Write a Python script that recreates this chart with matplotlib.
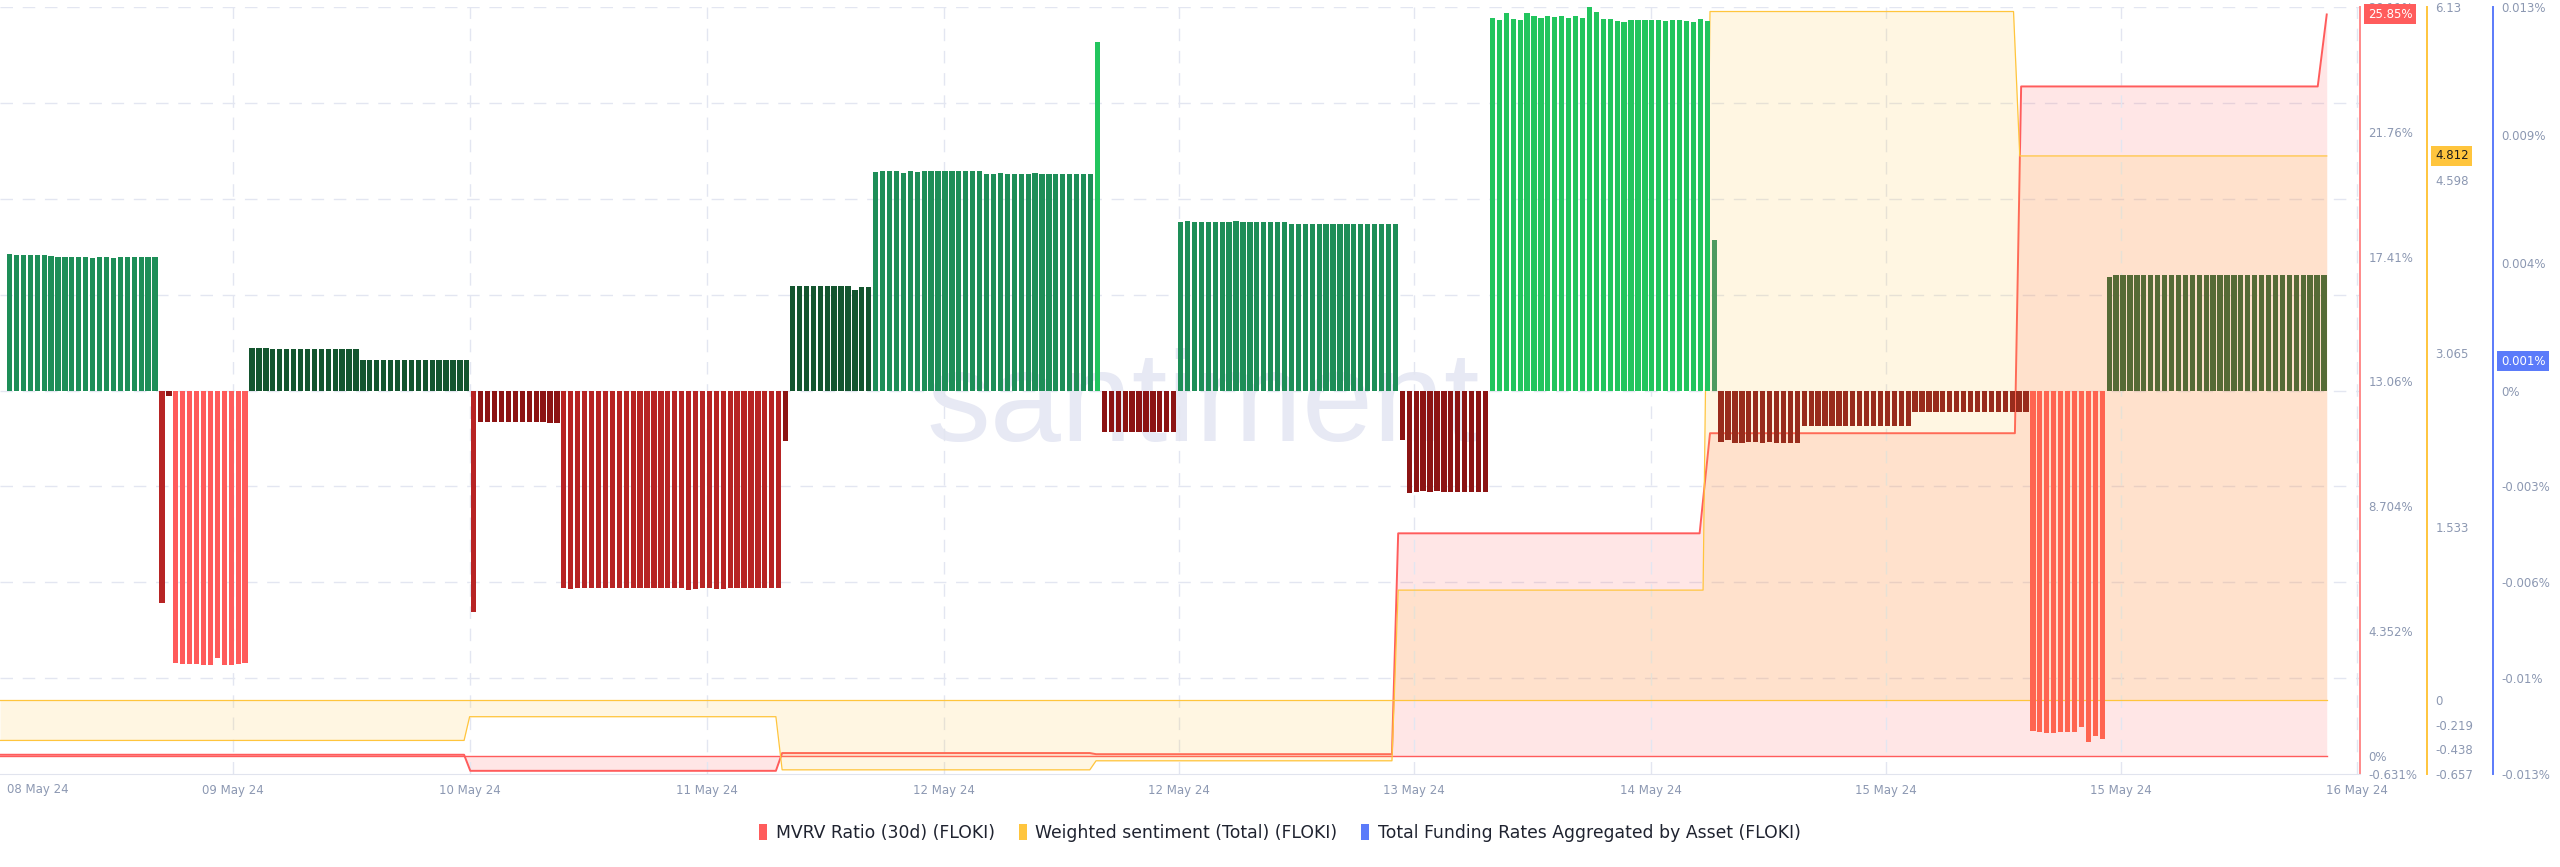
import matplotlib
matplotlib.use("Agg")
import matplotlib.pyplot as plt
import matplotlib.transforms as mtransforms
from matplotlib.patches import Patch

# Total funding rates (%) per period from left to right
funding_rates = [
    # 08 May
    0.00462, 0.00459, 0.00459, 0.00458, 0.00459, 0.00458, 0.00455, 0.00454, 0.00454, 0.00451, 0.00451,
    0.00451, 0.00450, 0.00451, 0.00451, 0.00450, 0.00451, 0.00451, 0.00451, 0.00451, 0.00452, 0.00452,
    -0.00721,
    -0.00017,
    -0.00925, -0.00927, -0.00927, -0.00928, -0.00929, -0.00930, -0.00906, -0.00932, -0.00930, -0.00927, -0.00925,
    # 09 May
    0.00143, 0.00143, 0.00143, 0.00142, 0.00142, 0.00142, 0.00142, 0.00142, 0.00142, 0.00142, 0.00142,
    0.00142, 0.00142, 0.00142, 0.00142, 0.00142, 0.00105, 0.00105, 0.00104, 0.00105, 0.00105, 0.00105,
    0.00105, 0.00105, 0.00105, 0.00105, 0.00105, 0.00105, 0.00105, 0.00105, 0.00105, 0.00105,
    -0.00752,
    -0.00106, -0.00106, -0.00106, -0.00107, -0.00107, -0.00107, -0.00107, -0.00107, -0.00107, -0.00108,
    -0.00109, -0.00109,
    # 10 - 11 May
    -0.00668, -0.00672, -0.00669, -0.00669, -0.00668, -0.00669, -0.00670, -0.00670, -0.00670, -0.00670,
    -0.00669, -0.00670, -0.00670, -0.00669, -0.00670, -0.00671, -0.00670, -0.00670, -0.00676, -0.00672,
    -0.00671, -0.00670, -0.00674, -0.00672, -0.00670, -0.00670, -0.00671, -0.00671, -0.00670, -0.00671,
    -0.00671, -0.00670,
    -0.00171,
    0.00354, 0.00354, 0.00354, 0.00354, 0.00354, 0.00354, 0.00354, 0.00354, 0.00354, 0.00341, 0.00352, 0.00352,
    # 12 May
    0.00742, 0.00744, 0.00743, 0.00743, 0.00737, 0.00744, 0.00742, 0.00744, 0.00744, 0.00744, 0.00744,
    0.00744, 0.00744, 0.00744, 0.00745, 0.00744, 0.00735, 0.00735, 0.00736, 0.00735, 0.00735, 0.00735,
    0.00735, 0.00736, 0.00735, 0.00735, 0.00735, 0.00735, 0.00735, 0.00735, 0.00735, 0.00735,
    0.01181,
    -0.00141, -0.00141, -0.00141, -0.00141, -0.00141, -0.00141, -0.00141, -0.00141, -0.00141, -0.00141, -0.00140,
    0.00572, 0.00573, 0.00572, 0.00572, 0.00572, 0.00572, 0.00572, 0.00572, 0.00573, 0.00572, 0.00572,
    0.00572, 0.00572, 0.00572, 0.00572, 0.00572, 0.00565, 0.00565, 0.00565, 0.00565, 0.00566, 0.00565,
    0.00565, 0.00565, 0.00565, 0.00565, 0.00565, 0.00565, 0.00565, 0.00565, 0.00565, 0.00565,
    # 13 May
    -0.00167, -0.00347, -0.00344, -0.00339, -0.00343, -0.00341, -0.00345, -0.00345, -0.00345, -0.00345,
    -0.00345, -0.00345, -0.00343,
    0.01264, 0.01255, 0.01281, 0.01259, 0.01255, 0.01280, 0.01270, 0.01264, 0.01270, 0.01266, 0.01268,
    0.01264, 0.01268, 0.01264, 0.01302, 0.01284, 0.01258, 0.01260, 0.01251, 0.01249, 0.01255, 0.01257,
    0.01257, 0.01255, 0.01255, 0.01252, 0.01257, 0.01255, 0.01252, 0.01249, 0.01258, 0.01251,
    0.00510,
    # 14 May
    -0.00175, -0.00169, -0.00177, -0.00177, -0.00175, -0.00175, -0.00177, -0.00175, -0.00177, -0.00177,
    -0.00177, -0.00177,
    -0.00120, -0.00119, -0.00119, -0.00120, -0.00119, -0.00120, -0.00120, -0.00120, -0.00122, -0.00120,
    -0.00121, -0.00121, -0.00120, -0.00121, -0.00121, -0.00120,
    -0.00072, -0.00072, -0.00072, -0.00073, -0.00072, -0.00072, -0.00072, -0.00073, -0.00072, -0.00072,
    -0.00072, -0.00072, -0.00073, -0.00072, -0.00072, -0.00072, -0.00073,
    # 15 May
    -0.01153, -0.01156, -0.01162, -0.01162, -0.01159, -0.01159, -0.01159, -0.01139, -0.01190, -0.01170, -0.01180,
    0.00386, 0.00391, 0.00391, 0.00391, 0.00390, 0.00391, 0.00391, 0.00391, 0.00391, 0.00391, 0.00390,
    0.00391, 0.00391, 0.00391, 0.00391, 0.00391, 0.00390, 0.00391, 0.00391, 0.00391, 0.00391, 0.00391,
    0.00391, 0.00391, 0.00390, 0.00391, 0.00391, 0.00391, 0.00391, 0.00393, 0.00391, 0.00391,
]

# colour of each run of bars (count, colour)
bar_color_runs = [
    (22, "#1e8e58"), (1, "#b72424"), (1, "#8c1414"), (11, "#ff5b5b"),
    (32, "#14552f"), (1, "#b72424"), (12, "#8c1414"), (32, "#b72424"),
    (1, "#8c1414"), (12, "#14552f"), (32, "#1e8e58"), (1, "#22c55e"),
    (11, "#8c1414"), (32, "#1e8e58"), (13, "#8c1414"), (32, "#22c55e"),
    (1, "#4e9a60"), (12, "#992c1c"), (16, "#992c1c"), (17, "#992c1c"),
    (11, "#ff6450"), (32, "#566b36"),
]

# MVRV ratio (30d) in %, breakpoints on the funding-period axis
mvrv_x = [-1.37, 65.6, 66.5, 110.6, 111.5, 155.9, 156.8, 199.5, 200.4, 243.9, 245.4, 289.4, 290.3, 333.1, 334.4]
mvrv_y = [0.04, 0.04, -0.52, -0.52, 0.10, 0.10, 0.06, 0.06, 7.76, 7.76, 11.25, 11.25, 23.34, 23.34, 25.85]

# Weighted sentiment (total)
sent_x = [-1.37, 65.6, 66.4, 110.6, 111.5, 155.9, 156.8, 199.5, 200.4, 244.4, 245.4, 289.2, 290.1, 334.4]
sent_y = [-0.36, -0.36, -0.15, -0.15, -0.62, -0.62, -0.54, -0.54, 0.97, 0.97, 6.09, 6.09, 4.812, 4.812]

# x axis
tick_pos = [32.2, 66.4, 100.6, 134.8, 168.8, 202.7, 236.9, 270.8, 304.7, 338.8]
tick_labels = ["09 May 24", "10 May 24", "11 May 24", "12 May 24", "12 May 24",
               "13 May 24", "14 May 24", "15 May 24", "15 May 24", "16 May 24"]
first_label = "08 May 24"

# right hand axes ticks
mvrv_ticks = [26.11, 21.76, 17.41, 13.06, 8.704, 4.352, 0, -0.631]
mvrv_tick_labels = ["26.11%", "21.76%", "17.41%", "13.06%", "8.704%", "4.352%", "0%", "-0.631%"]
sent_ticks = [6.13, 4.598, 3.065, 1.533, 0, -0.219, -0.438, -0.657]
sent_tick_labels = ["6.13", "4.598", "3.065", "1.533", "0", "-0.219", "-0.438", "-0.657"]
fund_ticks = [0.013, 0.00867, 0.00433, 0, -0.00325, -0.0065, -0.00975, -0.013]
fund_tick_labels = ["0.013%", "0.009%", "0.004%", "0%", "-0.003%", "-0.006%", "-0.01%", "-0.013%"]

last_mvrv = "25.85%"
last_sent = "4.812"
last_fund = "0.001%"
last_fund_value = 0.001

RED = "#ff5c5c"
YELLOW = "#ffc53d"
BLUE = "#5b7bfa"
TICK = "#8c98b2"
GRID = "#e3e6f1"

plt.rcParams["font.family"] = ["DejaVu Sans"]

fig = plt.figure(figsize=(25.6, 8.67), dpi=100)
ax = fig.add_axes([0, 93 / 867, 2360 / 2560, 767 / 867])
ax_s = ax.twinx()
ax_f = ax.twinx()
ax.yaxis.tick_right()

for a in (ax, ax_s, ax_f):
    for side in ("top", "left", "bottom"):
        a.spines[side].set_visible(False)
ax.spines["bottom"].set_visible(True)
ax.spines["bottom"].set_color("#e1e4ee")
ax.spines["right"].set_color("#ff8a8a")
ax.spines["right"].set_linewidth(1.4)
ax_s.spines["right"].set_position(("outward", 67 * 0.72))
ax_s.spines["right"].set_color(YELLOW)
ax_s.spines["right"].set_linewidth(1.4)
ax_f.spines["right"].set_position(("outward", 133 * 0.72))
ax_f.spines["right"].set_color(BLUE)
ax_f.spines["right"].set_linewidth(1.4)

ax.set_xlim(-1.37, 339.2)
ax.set_ylim(-0.631, 26.11)
ax_s.set_ylim(-0.657, 6.13)
ax_f.set_ylim(-0.013, 0.013)

# watermark
ax.text(0.51, 0.434, "santiment", transform=ax.transAxes, ha="center", va="baseline",
        fontsize=92, color="#e7e9f4", family=["Liberation Sans", "DejaVu Sans"], zorder=0)

# grid
ax.set_xticks(tick_pos)
ax.set_xticklabels(tick_labels)
ax.grid(axis="x", color=GRID, linestyle=(0, (9, 7)), linewidth=1)
for k in range(1, 9):
    ax.plot([0, 1], [k / 8, k / 8], transform=ax.transAxes, color=GRID,
            linestyle=(0, (9, 7)), linewidth=1, zorder=0.5)

# MVRV area
ax.fill_between(mvrv_x, mvrv_y, 0, color=RED, alpha=0.15, linewidth=0, zorder=1)
ax.plot([mvrv_x[0], mvrv_x[-1]], [0, 0], color=RED, linewidth=1.0, zorder=2)
ax.plot(mvrv_x, mvrv_y, color=RED, linewidth=1.4, zorder=2)

# sentiment area
ax_s.fill_between(sent_x, sent_y, 0, color=YELLOW, alpha=0.15, linewidth=0, zorder=1)
ax_s.plot([sent_x[0], sent_x[-1]], [0, 0], color=YELLOW, linewidth=0.9, zorder=2)
ax_s.plot(sent_x, sent_y, color=YELLOW, linewidth=0.9, zorder=2)

# funding rate bars
bar_colors = [c for n, c in bar_color_runs for _ in range(n)]
ax_f.bar(range(len(funding_rates)), funding_rates, width=0.76, color=bar_colors,
         linewidth=0, zorder=3)

# ticks
ax.tick_params(axis="x", length=0, pad=7, labelsize=8.5, labelcolor=TICK)
ax.set_yticks(mvrv_ticks)
ax.set_yticklabels(mvrv_tick_labels)
ax_s.set_yticks(sent_ticks)
ax_s.set_yticklabels(sent_tick_labels)
ax_f.set_yticks(fund_ticks)
ax_f.set_yticklabels(fund_tick_labels)
for a in (ax, ax_s, ax_f):
    a.tick_params(axis="y", length=0, pad=6, labelsize=8.5, labelcolor=TICK)

fig.text(7 / 2560, (867 - 789) / 867, first_label, ha="left", va="center",
         fontsize=8.5, color=TICK)

# last value badges
tr_m = mtransforms.blended_transform_factory(fig.transFigure, ax.transData)
tr_s = mtransforms.blended_transform_factory(fig.transFigure, ax_s.transData)
tr_f = mtransforms.blended_transform_factory(fig.transFigure, ax_f.transData)
fig.text(2368 / 2560, 25.85, last_mvrv, transform=tr_m, ha="left", va="center", fontsize=8.5,
         color="white", bbox=dict(boxstyle="square,pad=0.3", facecolor=RED, edgecolor="none"))
fig.text(2435 / 2560, 4.812, last_sent, transform=tr_s, ha="left", va="center", fontsize=8.5,
         color="#1c1c1c", bbox=dict(boxstyle="square,pad=0.3", facecolor=YELLOW, edgecolor="none"))
fig.text(2501 / 2560, last_fund_value, last_fund, transform=tr_f, ha="left", va="center", fontsize=8.5,
         color="white", bbox=dict(boxstyle="square,pad=0.3", facecolor=BLUE, edgecolor="none"))

# legend
handles = [Patch(facecolor=RED, edgecolor="none", label="MVRV Ratio (30d) (FLOKI)"),
           Patch(facecolor=YELLOW, edgecolor="none", label="Weighted sentiment (Total) (FLOKI)"),
           Patch(facecolor=BLUE, edgecolor="none", label="Total Funding Rates Aggregated by Asset (FLOKI)")]
leg = fig.legend(handles=handles, loc="center", bbox_to_anchor=(0.5, 34 / 867), ncol=3,
                 frameon=False, fontsize=12.4, handlelength=0.45, handleheight=1.0,
                 handletextpad=0.5, columnspacing=1.4)
for t in leg.get_texts():
    t.set_color("#1f2330")

fig.savefig("out.png", dpi=100)
